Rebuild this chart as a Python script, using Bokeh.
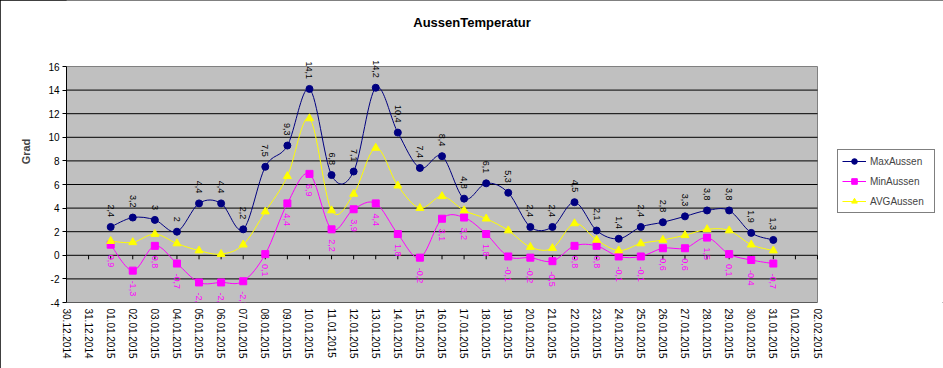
import numpy as np
from bokeh.plotting import figure
from bokeh.core.properties import value
from bokeh.models import (Range1d, FixedTicker, ColumnDataSource, LabelSet, Label,
                          Legend, LegendItem, InlineStyleSheet)
from bokeh.embed import file_html
from bokeh.resources import INLINE

# ---------------- data ----------------
tick_labels = ["30.12.2014", "31.12.2014",
               "01.01.2015", "02.01.2015", "03.01.2015", "04.01.2015", "05.01.2015",
               "06.01.2015", "07.01.2015", "08.01.2015", "09.01.2015", "10.01.2015",
               "11.01.2015", "12.01.2015", "13.01.2015", "14.01.2015", "15.01.2015",
               "16.01.2015", "17.01.2015", "18.01.2015", "19.01.2015", "20.01.2015",
               "21.01.2015", "22.01.2015", "23.01.2015", "24.01.2015", "25.01.2015",
               "26.01.2015", "27.01.2015", "28.01.2015", "29.01.2015", "30.01.2015",
               "31.01.2015", "01.02.2015", "02.02.2015"]
dates = tick_labels[2:33]

max_aussen = [2.4, 3.2, 3.0, 2.0, 4.4, 4.4, 2.2, 7.5, 9.3, 14.1, 6.8, 7.1, 14.2, 10.4, 7.4,
              8.4, 4.8, 6.1, 5.3, 2.4, 2.4, 4.5, 2.1, 1.4, 2.4, 2.8, 3.3, 3.8, 3.8, 1.9, 1.3]
min_aussen = [0.9, -1.3, 0.8, -0.7, -2.3, -2.3, -2.2, 0.1, 4.4, 6.9, 2.2, 3.9, 4.4, 1.8, -0.2,
              3.1, 3.2, 1.8, -0.1, -0.2, -0.5, 0.8, 0.8, -0.1, -0.1, 0.6, 0.6, 1.5, 0.1, -0.4, -0.7]
avg_aussen = [1.2, 1.1, 1.8, 1.0, 0.4, 0.1, 0.9, 3.7, 6.7, 11.6, 3.8, 5.2, 9.1, 5.9, 4.0,
              5.0, 3.8, 3.1, 2.1, 0.7, 0.6, 2.7, 1.3, 0.4, 1.0, 1.3, 1.7, 2.2, 2.1, 0.9, 0.4]
y_ticks = [-4, -2, 0, 2, 4, 6, 8, 10, 12, 14, 16]
title_text = "AussenTemperatur"

FONT = "Liberation Sans"
x_idx = [tick_labels.index(d) for d in dates]
x_first, x_last = 0, len(tick_labels) - 1

# layout (pixels): grey plot area is 751 x 236; the frame also holds title and legend
W, H = 943, 368
LEFT, BOTTOM = 66, 66
AREA_W, AREA_H = 751, 236
FRAME_W, FRAME_H = W - LEFT, H - BOTTOM
x_end = x_first + (x_last - x_first) * FRAME_W / AREA_W
y_end = y_ticks[0] + (y_ticks[-1] - y_ticks[0]) * FRAME_H / AREA_H
px_x = (x_last - x_first) / AREA_W
px_y = (y_ticks[-1] - y_ticks[0]) / AREA_H


def fmt(v):
    return f"{v:g}".replace(".", ",")


def bezier_source(xs, ys):
    x = np.asarray(xs, float)
    y = np.asarray(ys, float)
    xp = np.concatenate([[x[0]], x, [x[-1]]])
    yp = np.concatenate([[y[0]], y, [y[-1]]])
    n = len(x)
    i = np.arange(n - 1) + 1
    return ColumnDataSource(dict(
        x0=xp[i], y0=yp[i], x1=xp[i + 1], y1=yp[i + 1],
        cx0=xp[i] + (xp[i + 1] - xp[i - 1]) / 6, cy0=yp[i] + (yp[i + 1] - yp[i - 1]) / 6,
        cx1=xp[i + 1] - (xp[i + 2] - xp[i]) / 6, cy1=yp[i + 1] - (yp[i + 2] - yp[i]) / 6,
    ))


p = figure(frame_width=FRAME_W, frame_height=FRAME_H,
           x_range=Range1d(x_first, x_end), y_range=Range1d(y_ticks[0], y_end),
           output_backend="svg", toolbar_location=None,
           min_border_left=LEFT, min_border_right=0, min_border_top=0, min_border_bottom=BOTTOM,
           background_fill_color="white", border_fill_color="white",
           outline_line_color=None)
p.stylesheets = [InlineStyleSheet(css=":host { outline: 1px solid black; outline-offset: -1px; }")]

# x axis
p.xaxis.ticker = FixedTicker(ticks=list(range(len(tick_labels))))
p.xaxis.major_label_overrides = {i: t for i, t in enumerate(tick_labels)}
p.xaxis.major_label_orientation = -np.pi / 2
p.xaxis.axis_line_color = None
p.xaxis.major_tick_line_color = None
p.xaxis.minor_tick_line_color = None
p.xaxis.major_tick_out = 0
p.xaxis.major_tick_in = 0
p.xaxis.major_label_standoff = 6
p.xaxis.major_label_text_font = FONT
p.xaxis.major_label_text_font_size = "10px"
p.xaxis.major_label_text_color = "black"
p.xgrid.grid_line_color = None
p.ygrid.grid_line_color = None

# y axis
p.yaxis.ticker = FixedTicker(ticks=y_ticks)
p.yaxis.bounds = (y_ticks[0], y_ticks[-1])
p.yaxis.major_label_overrides = {v: str(v) for v in y_ticks}
p.yaxis.axis_line_color = "black"
p.yaxis.major_tick_line_color = "black"
p.yaxis.minor_tick_line_color = None
p.yaxis.major_tick_out = 4
p.yaxis.major_tick_in = 0
p.yaxis.major_label_standoff = 3
p.yaxis.major_label_text_font = FONT
p.yaxis.major_label_text_font_size = "10px"
p.yaxis.major_label_text_color = "black"
p.yaxis.axis_label = "Grad"
p.yaxis.axis_label_text_font = FONT
p.yaxis.axis_label_text_font_size = "11px"
p.yaxis.axis_label_text_font_style = "bold"
p.yaxis.axis_label_standoff = 13

# plot area (grey) and its horizontal grid lines
p.quad(left=x_first, right=x_last, bottom=y_ticks[0], top=y_ticks[-1],
       fill_color="#C0C0C0", line_color="#808080", line_width=1)
p.segment(x0=[x_first] * (len(y_ticks) - 1), x1=[x_last] * (len(y_ticks) - 1),
          y0=y_ticks[:-1], y1=y_ticks[:-1], line_color="black", line_width=1)

# category axis tick marks at y = 0
p.ray(x=list(range(len(tick_labels))), y=[0] * len(tick_labels), length=4,
      length_units="screen", angle=-np.pi / 2, line_color="black", line_width=1)

series = [
    ("MaxAussen", max_aussen, "#000080", "circle", 7),
    ("MinAussen", min_aussen, "#FF00FF", "square", 7),
    ("AVGAussen", avg_aussen, "#FFFF00", "triangle", 8),
]
items = []
for name, vals, col, marker, size in series:
    b = p.bezier(x0="x0", y0="y0", x1="x1", y1="y1", cx0="cx0", cy0="cy0", cx1="cx1", cy1="cy1",
                 source=bezier_source(x_idx, vals), line_color=col, line_width=1)
    s = p.scatter(x=x_idx, y=vals, marker=marker, size=size, fill_color=col, line_color=col)
    items.append(LegendItem(label=name, renderers=[b, s]))

max_src = ColumnDataSource(dict(x=x_idx, y=max_aussen, t=[fmt(v) for v in max_aussen]))
min_src = ColumnDataSource(dict(x=x_idx, y=min_aussen, t=[fmt(v) for v in min_aussen]))
p.add_layout(LabelSet(x="x", y="y", text="t", source=max_src, angle=-np.pi / 2,
                      text_align="right", text_baseline="middle", y_offset=10,
                      text_font=value(FONT), text_font_size=value("9px"),
                      text_color="black"))
p.add_layout(LabelSet(x="x", y="y", text="t", source=min_src, angle=-np.pi / 2,
                      text_align="left", text_baseline="middle", y_offset=-10,
                      text_font=value(FONT), text_font_size=value("9px"),
                      text_color="#FF00FF"))

# chart title, centred on the whole chart, 22 px below its top edge
p.add_layout(Label(x=x_first + (W / 2 - LEFT) * px_x, y=y_end - 22 * px_y, text=title_text,
                   text_align="center", text_baseline="middle", text_font=FONT,
                   text_font_size="13px", text_font_style="bold", text_color="black"))

legend = Legend(items=items, location=(771, 89), border_line_color="black", border_line_width=1,
                background_fill_color="white", background_fill_alpha=1.0,
                label_text_font=FONT, label_text_font_size="10px",
                glyph_width=24, glyph_height=14, label_height=14, spacing=6, padding=4,
                label_standoff=4, label_width=60, margin=0)
p.add_layout(legend)

open("out.html", "w").write(file_html(p, INLINE))
